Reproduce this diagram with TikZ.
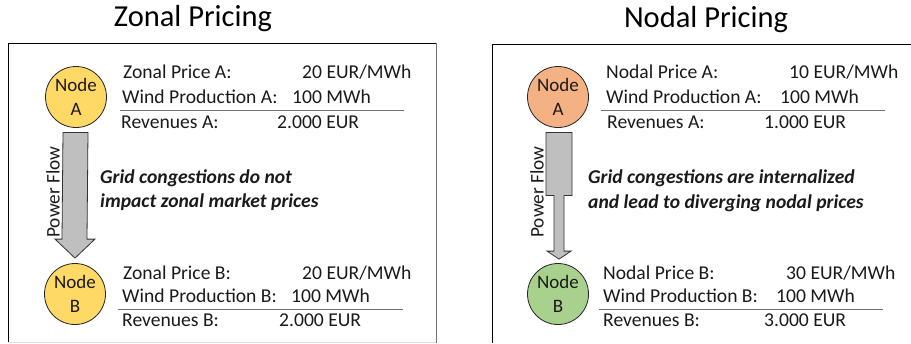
\documentclass[tikz,border=0pt]{standalone}
\usepackage{fontspec}
\setmainfont{Carlito}
\usetikzlibrary{calc}
\definecolor{nyellow}{HTML}{FFD966}
\definecolor{norange}{HTML}{F4B183}
\definecolor{ngreen}{HTML}{A9D18E}
\definecolor{arrgray}{HTML}{BFBFBF}
\definecolor{txtc}{HTML}{1A1A1A}
\begin{document}
\begin{tikzpicture}[x=1pt,y=-1pt,
  txt/.style={anchor=base west, inner sep=0, text=txtc, font=\fontsize{19.6}{23}\selectfont},
  ital/.style={anchor=base west, inner sep=0, text=txtc, font=\fontsize{19.6}{23}\selectfont\bfseries\itshape},
  ttl/.style={anchor=base, inner sep=0, text=black, font=\fontsize{30.5}{34}\selectfont},
  gridnode/.style={circle, draw=black!85, line width=0.8pt, minimum size=61pt, inner sep=0, align=center, text=txtc, font=\fontsize{19}{24}\selectfont},
  flowarrow/.style={draw=black!80, fill=arrgray, line width=0.8pt, line join=miter},
  sepline/.style={draw=black!55, line width=1pt},
  flowlbl/.style={rotate=90, inner sep=0, text=txtc, font=\fontsize{19.3}{23}\selectfont}]
\useasboundingbox (0,0) rectangle (911,343);

% ---------- Zonal panel ----------
\node[ttl] (zt) at (193,26) {Zonal Pricing};
\draw[black, line width=1pt] (8,342) -- (8,43) -- (436,43);
\draw[black!55, line width=1pt] (436,43) -- (436,343);
\draw[black!12, line width=1pt] (8,342) -- (436,342);

\node[gridnode, fill=nyellow] (zA) at (76,97) {Node\\A};
\node[gridnode, fill=nyellow] (zB) at (75,294) {Node\\B};

\coordinate (zt1) at ($(zA.south)+(0,4.5)$);
\coordinate (zh1) at ($(zB.north)+(0,-5)$);
\draw[flowarrow] ($(zt1)+(-13,0)$) -- ($(zt1)+(12,0)$) -- ($(zh1)+(12,-19)$) -- ($(zh1)+(20,-19)$) -- (zh1) -- ($(zh1)+(-20,-19)$) -- ($(zh1)+(-13,-19)$) -- cycle;
\node[flowlbl] (zpf) at (53,192) {Power Flow};

\node[txt] (zpa) at (123,78) {Zonal Price A:};
\node[txt] (zpav) at (302,78) {20 EUR/MWh};
\node[txt] (zwa) at (122,103) {Wind Production A:};
\node[txt] (zwav) at (292,103) {100 MWh};
\node[txt] (zra) at (121,128) {Revenues A:};
\node[txt] (zrav) at (277,128) {2.000 EUR};
\coordinate (zl1a) at (120,110);
\coordinate (zl1b) at (404,110);
\draw[sepline] (zl1a) -- (zl1b);

\node[ital] (zg1) at (100,183) {Grid congestions do not};
\node[ital] (zg2) at (100,207) {impact zonal market prices};

\node[txt] (zpb) at (123,279) {Zonal Price B:};
\node[txt] (zpbv) at (302,279) {20 EUR/MWh};
\node[txt] (zwb) at (122,302) {Wind Production B:};
\node[txt] (zwbv) at (291,302) {100 MWh};
\node[txt] (zrb) at (122,326) {Revenues B:};
\node[txt] (zrbv) at (279,326) {2.000 EUR};
\coordinate (zl2a) at (118,309);
\coordinate (zl2b) at (403,309);
\draw[sepline] (zl2a) -- (zl2b);

% ---------- Nodal panel ----------
\node[ttl] (nt) at (706,27) {Nodal Pricing};
\draw[black, line width=1pt] (492,343) -- (492,44) -- (911,44);

\node[gridnode, fill=norange] (nA) at (558,97) {Node\\A};
\node[gridnode, fill=ngreen] (nB) at (558,294) {Node\\B};

\coordinate (nt1) at ($(nA.south)+(1,4.5)$);
\coordinate (nh1) at ($(nB.north)+(1,-4)$);
\draw[flowarrow] ($(nt1)+(-13,0)$) -- ($(nt1)+(13,0)$) -- ($(nt1)+(13,63)$) -- ($(nt1)+(5,63)$) -- ($(nh1)+(5,-8)$) -- ($(nh1)+(12,-8)$) -- (nh1) -- ($(nh1)+(-12,-8)$) -- ($(nh1)+(-5,-8)$) -- ($(nt1)+(-5,63)$) -- ($(nt1)+(-13,63)$) -- cycle;
\node[flowlbl] (npf) at (537,192) {Power Flow};

\node[txt] (npa) at (606,78) {Nodal Price A:};
\node[txt] (npav) at (789,78) {10 EUR/MWh};
\node[txt] (nwa) at (606,103) {Wind Production A:};
\node[txt] (nwav) at (780,103) {100 MWh};
\node[txt] (nra) at (607,128) {Revenues A:};
\node[txt] (nrav) at (764,128) {1.000 EUR};
\coordinate (nl1a) at (601,110);
\coordinate (nl1b) at (885,110);
\draw[sepline] (nl1a) -- (nl1b);

\node[ital] (ng1) at (588,183) {Grid congestions are internalized};
\node[ital] (ng2) at (588,208) {and lead to diverging nodal prices};

\node[txt] (npb) at (603,279) {Nodal Price B:};
\node[txt] (npbv) at (786,279) {30 EUR/MWh};
\node[txt] (nwb) at (603,302) {Wind Production B:};
\node[txt] (nwbv) at (776,302) {100 MWh};
\node[txt] (nrb) at (603,326) {Revenues B:};
\node[txt] (nrbv) at (764,326) {3.000 EUR};
\coordinate (nl2a) at (599,309);
\coordinate (nl2b) at (883,309);
\draw[sepline] (nl2a) -- (nl2b);
\end{tikzpicture}
\end{document}
